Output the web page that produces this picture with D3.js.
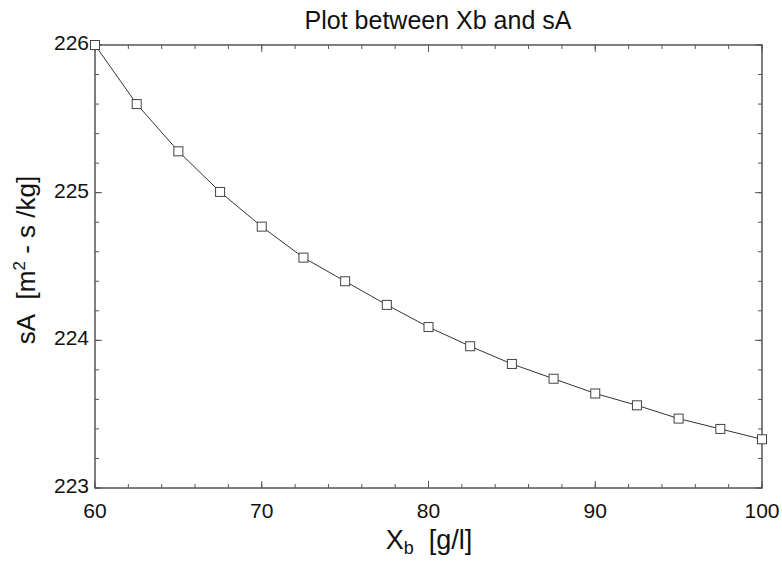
<!DOCTYPE html>
<html><head><meta charset="utf-8">
<script src="https://cdn.jsdelivr.net/npm/d3@7"></script>
<style>body{margin:0;background:#fff}svg{display:block}text{font-family:"Liberation Sans",Arial,sans-serif;fill:#111}</style>
</head><body><svg id="c" width="782" height="561"></svg>
<script>
const xb = [60,62.5,65,67.5,70,72.5,75,77.5,80,82.5,85,87.5,90,92.5,95,97.5,100];
const sA = [226.0,225.60,225.28,225.005,224.77,224.56,224.40,224.24,224.09,223.96,223.84,223.74,223.64,223.56,223.47,223.40,223.33];
const xTicks = [60,70,80,90,100];
const yTicks = [223,224,225,226];
const svg = d3.select("#c");
const L=95,R=762,T=45,B=488;
const x = d3.scaleLinear().domain([60,100]).range([L,R]);
const y = d3.scaleLinear().domain([223,226]).range([B,T]);
const col="#555";
const g = svg.append("g");
const xMinor = d3.range(60,100.01,2);
const yMinor = d3.range(223,226.01,0.2);
function tickLines(vals, len){
  vals.forEach(v=>{
    g.append("line").attr("x1",x(v)).attr("x2",x(v)).attr("y1",B).attr("y2",B-len).attr("stroke",col);
    g.append("line").attr("x1",x(v)).attr("x2",x(v)).attr("y1",T).attr("y2",T+len).attr("stroke",col);
  });
}
function tickLinesY(vals,len){
  vals.forEach(v=>{
    g.append("line").attr("y1",y(v)).attr("y2",y(v)).attr("x1",L).attr("x2",L+len).attr("stroke",col);
    g.append("line").attr("y1",y(v)).attr("y2",y(v)).attr("x1",R).attr("x2",R-len).attr("stroke",col);
  });
}
tickLines(xMinor,4); tickLines(xTicks,7);
tickLinesY(yMinor,4); tickLinesY(yTicks,7);
g.append("rect").attr("x",L).attr("y",T).attr("width",R-L).attr("height",B-T).attr("fill","none").attr("stroke",col).attr("stroke-width",1.5);
xTicks.forEach(v=>g.append("text").attr("x",x(v)).attr("y",B+30).attr("text-anchor","middle").attr("font-size",21).text(v));
yTicks.forEach(v=>g.append("text").attr("x",L-6).attr("y",y(v)+5).attr("text-anchor","end").attr("font-size",21).text(v));
const line = d3.line().x((d,i)=>x(xb[i])).y(d=>y(d));
g.append("path").attr("d",line(sA)).attr("fill","none").attr("stroke","#333").attr("stroke-width",1);
g.selectAll(".m").data(sA).enter().append("rect").attr("x",(d,i)=>x(xb[i])-4.5).attr("y",d=>y(d)-4.5).attr("width",9).attr("height",9).attr("fill","#fff").attr("stroke","#444").attr("stroke-width",1);
svg.append("text").attr("x",438).attr("y",29).attr("text-anchor","middle").attr("font-size",25).text("Plot between Xb and sA");
const xl = svg.append("text").attr("x",429).attr("y",549).attr("text-anchor","middle").attr("font-size",27);
xl.append("tspan").text("X");
xl.append("tspan").attr("font-size",18).attr("dy",5).text("b");
xl.append("tspan").attr("dy",-5).text("\u00a0\u00a0[g/l]");
const yl = svg.append("text").attr("transform","translate(35,260) rotate(-90)").attr("text-anchor","middle").attr("font-size",26);
yl.append("tspan").text("sA\u00a0\u00a0[m");
yl.append("tspan").attr("font-size",17).attr("dy",-10).text("2");
yl.append("tspan").attr("dy",10).text(" - s /kg]");
</script></body></html>
